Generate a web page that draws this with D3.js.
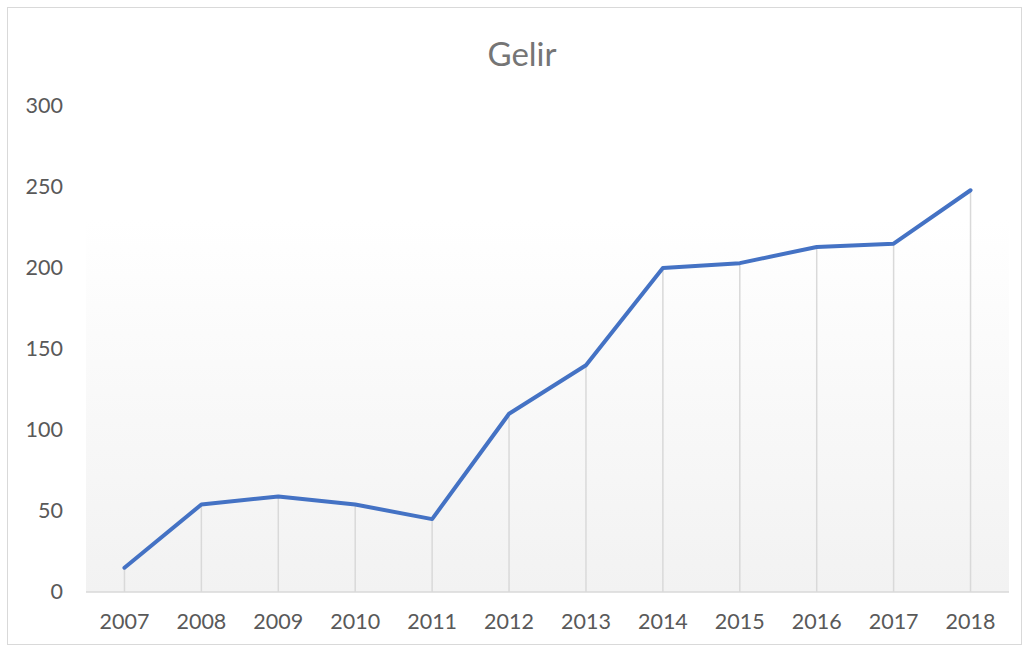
<!DOCTYPE html>
<html>
<head>
<meta charset="utf-8">
<script src="https://cdn.jsdelivr.net/npm/d3@7"></script>
<style>
  body { margin: 0; background: #fff; }
  svg { display: block; font-family: Lato, "Open Sans", sans-serif; }
</style>
</head>
<body>
<div id="chart_div"></div>
<script>
// Data
const years = ["2007", "2008", "2009", "2010", "2011", "2012", "2013", "2014", "2015", "2016", "2017", "2018"];
const gelir = [15, 54, 59, 54, 45, 110, 140, 200, 203, 213, 215, 248];
const yTicks = [0, 50, 100, 150, 200, 250, 300];
const title = "Gelir";

const width = 1029;
const height = 649;
const marginLeft = 86;
const marginRight = 20;
const marginTop = 106;
const baseY = 592;

const svg = d3.select("#chart_div").append("svg")
  .attr("width", width)
  .attr("height", height);

// outer chart border
svg.append("rect")
  .attr("x", 7.5).attr("y", 7.5)
  .attr("width", 1014).attr("height", 637)
  .attr("fill", "#fff")
  .attr("stroke", "#d9d9d9");

const x = d3.scaleBand().domain(years).range([marginLeft, width - marginRight]);
const y = d3.scaleLinear().domain([0, 300]).range([baseY, marginTop]);

// plot area gradient (white at top to light gray at bottom)
const defs = svg.append("defs");
const grad = defs.append("linearGradient")
  .attr("id", "plotGrad")
  .attr("x1", 0).attr("y1", 0).attr("x2", 0).attr("y2", 1);
grad.append("stop").attr("offset", "0%").attr("stop-color", "#ffffff");
grad.append("stop").attr("offset", "100%").attr("stop-color", "#f2f2f2");

svg.append("rect")
  .attr("x", marginLeft)
  .attr("y", y(230))
  .attr("width", width - marginRight - marginLeft)
  .attr("height", baseY - y(230))
  .attr("fill", "url(#plotGrad)");

// title
svg.append("text")
  .attr("x", 522)
  .attr("y", 66)
  .attr("text-anchor", "middle")
  .attr("fill", "#757575")
  .attr("font-size", 33)
  .text(title);

// drop lines
svg.append("g")
  .attr("stroke", "#d9d9d9")
  .attr("stroke-width", 1.5)
  .selectAll("line")
  .data(gelir)
  .join("line")
  .attr("x1", (d, i) => x(years[i]) + x.bandwidth() / 2)
  .attr("x2", (d, i) => x(years[i]) + x.bandwidth() / 2)
  .attr("y1", d => y(d))
  .attr("y2", baseY);

// x axis baseline
svg.append("line")
  .attr("x1", marginLeft).attr("x2", width - marginRight)
  .attr("y1", baseY).attr("y2", baseY)
  .attr("stroke", "#d9d9d9")
  .attr("stroke-width", 1.5);

// y axis labels
const yAxis = svg.append("g")
  .attr("transform", `translate(${marginLeft},0)`)
  .call(d3.axisLeft(y).tickValues(yTicks).tickSize(0).tickPadding(23));
yAxis.select(".domain").remove();
yAxis.selectAll("text")
  .attr("fill", "#595959")
  .attr("font-size", 21.5)
  .attr("font-family", "Lato, 'Open Sans', sans-serif");

// x axis labels
const xAxis = svg.append("g")
  .attr("transform", `translate(0,${baseY})`)
  .call(d3.axisBottom(x).tickSize(0).tickPadding(22));
xAxis.select(".domain").remove();
xAxis.selectAll("text")
  .attr("fill", "#595959")
  .attr("font-size", 21.5)
  .attr("font-family", "Lato, 'Open Sans', sans-serif");

// line
const line = d3.line()
  .x((d, i) => x(years[i]) + x.bandwidth() / 2)
  .y(d => y(d));

svg.append("path")
  .datum(gelir)
  .attr("fill", "none")
  .attr("stroke", "#4472c4")
  .attr("stroke-width", 4)
  .attr("stroke-linejoin", "round")
  .attr("stroke-linecap", "round")
  .attr("d", line);
</script>
</body>
</html>
